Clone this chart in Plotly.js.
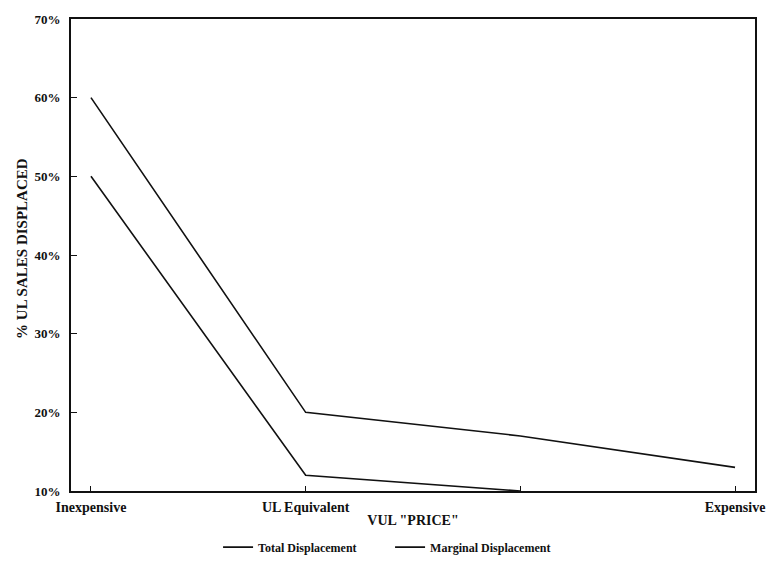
<!DOCTYPE html>
<html>
<head>
<meta charset="utf-8">
<script src="https://cdn.plot.ly/plotly-3.0.1.min.js"></script>
<style>html,body{margin:0;padding:0;background:#fff;}#chart{width:766px;height:567px;}</style>
</head>
<body>
<div id="chart"></div>
<script>
const categories = [0, 1, 2, 3];
const tickLabels = ["Inexpensive", "UL Equivalent", "", "Expensive"];
const totalDisplacement = [60, 20, 17, 13];
const marginalDisplacement = [50, 12, 10, null];
const yTicks = [10, 20, 30, 40, 50, 60, 70];
const yTickLabels = ["10%", "20%", "30%", "40%", "50%", "60%", "70%"];
const xTitle = 'VUL "PRICE"';
const yTitle = "% UL SALES DISPLACED";

const font = "Liberation Serif, Times New Roman, serif";

const traces = [
  {x: categories, y: totalDisplacement, name: "Total Displacement", type: "scatter", mode: "lines",
   line: {color: "#111", width: 1.6}},
  {x: categories, y: marginalDisplacement, name: "Marginal Displacement", type: "scatter", mode: "lines",
   line: {color: "#111", width: 1.6}}
];

const layout = {
  width: 766, height: 567,
  margin: {l: 71, r: 11, t: 19, b: 76},
  paper_bgcolor: "#fff", plot_bgcolor: "#fff",
  font: {family: font, color: "#111", size: 12},
  showlegend: true,
  legend: {orientation: "h", x: 0.215, xanchor: "left",
           yref: "container", y: 0.035, yanchor: "middle",
           entrywidth: 127, entrywidthmode: "pixels",
           font: {family: font, size: 12, weight: "bold"}, tracegroupgap: 0},
  xaxis: {
    range: [-0.093, 3.093],
    tickvals: categories, ticktext: tickLabels,
    ticks: "inside", ticklen: 5, tickwidth: 1, tickcolor: "#111",
    ticklabelstandoff: 2,
    showgrid: false, zeroline: false,
    showline: true, linecolor: "#111", linewidth: 2, mirror: true,
    tickfont: {family: font, size: 14, weight: "bold"},
    title: {text: xTitle, font: {family: font, size: 14, weight: "bold"}, standoff: 1}
  },
  yaxis: {
    range: [10, 70],
    tickvals: yTicks, ticktext: yTickLabels,
    ticks: "inside", ticklen: 6, tickwidth: 1, tickcolor: "#111",
    ticklabelstandoff: 6,
    showgrid: false, zeroline: false,
    showline: true, linecolor: "#111", linewidth: 2, mirror: true,
    tickfont: {family: font, size: 13, weight: "bold"}
  },
  annotations: [{
    text: yTitle, textangle: -90, xref: "paper", yref: "paper",
    x: -0.0716, y: 0.513, xanchor: "center", yanchor: "middle", showarrow: false,
    font: {family: font, size: 15, weight: "bold", color: "#111"}
  }]
};

Plotly.newPlot("chart", traces, layout, {displayModeBar: false, staticPlot: true});
</script>
</body>
</html>
